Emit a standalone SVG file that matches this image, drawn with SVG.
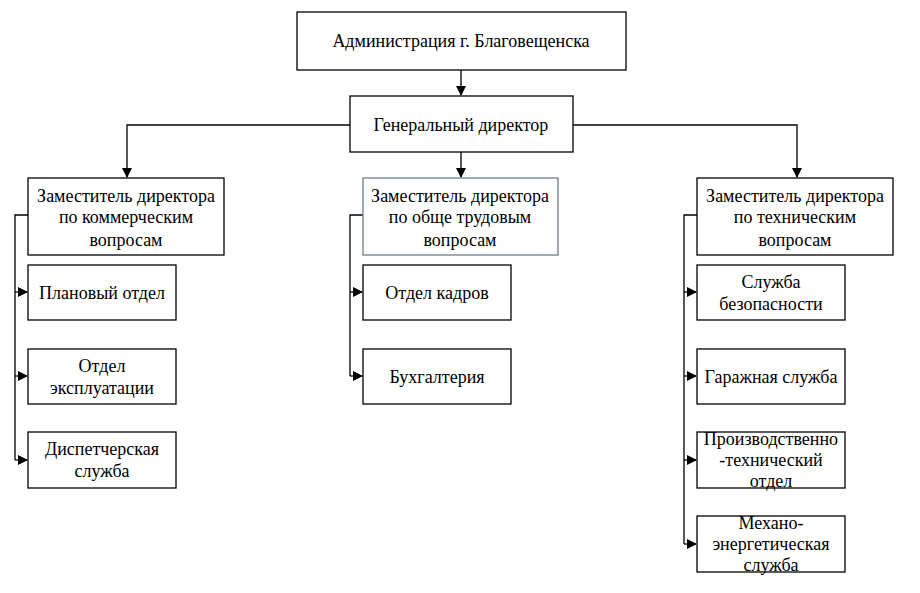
<svg xmlns="http://www.w3.org/2000/svg" width="920" height="593" viewBox="0 0 920 593">
<style>
.b{fill:#fff;stroke:#000;stroke-width:1.3}
.g{fill:#fff;stroke:#6f7d86;stroke-width:1.3}
text{font-family:"Liberation Serif",serif;font-size:18px;fill:#000;text-anchor:middle}
.c{fill:none;stroke:#000;stroke-width:1.3}
</style>
<defs><marker id="a" markerWidth="10" markerHeight="10" refX="9" refY="5" orient="auto" markerUnits="userSpaceOnUse"><path d="M0,0 L10,5 L0,10 z" fill="#000"/></marker></defs>
<rect width="920" height="593" fill="#fff"/>
<g id="connectors" class="c">
<path d="M461,70 V95" marker-end="url(#a)"/>
<path d="M350,125 H127 V177" marker-end="url(#a)"/>
<path d="M573,125 H797 V177" marker-end="url(#a)"/>
<path d="M461,152 V177" marker-end="url(#a)"/>
<path d="M28,215 H15 V460"/>
<path d="M15,292 H27" marker-end="url(#a)"/>
<path d="M15,376 H27" marker-end="url(#a)"/>
<path d="M15,460 H27" marker-end="url(#a)"/>
<path d="M363,215 H350 V376"/>
<path d="M350,292 H362" marker-end="url(#a)"/>
<path d="M350,376 H362" marker-end="url(#a)"/>
<path d="M697,215 H684 V544"/>
<path d="M684,292 H696" marker-end="url(#a)"/>
<path d="M684,376 H696" marker-end="url(#a)"/>
<path d="M684,460 H696" marker-end="url(#a)"/>
<path d="M684,544 H696" marker-end="url(#a)"/>
</g>
<g id="admin"><rect class="b" x="297" y="12" width="329" height="58"/><text x="461" y="47">Администрация г. Благовещенска</text></g>
<g id="gen"><rect class="b" x="350" y="96" width="223" height="56"/><text x="461" y="131">Генеральный директор</text></g>
<g id="dep1"><rect class="b" x="28" y="178" width="196" height="77"/><text x="126" y="202">Заместитель директора</text><text x="126" y="223">по коммерческим</text><text x="126" y="246">вопросам</text></g>
<g id="dep2"><rect class="g" x="363" y="178" width="195" height="77"/><text x="460" y="202">Заместитель директора</text><text x="460" y="223">по обще трудовым</text><text x="460" y="246">вопросам</text></g>
<g id="dep3"><rect class="b" x="697" y="178" width="196" height="77"/><text x="795" y="202">Заместитель директора</text><text x="795" y="223">по техническим</text><text x="795" y="246">вопросам</text></g>
<g id="l1"><rect class="b" x="28" y="265" width="148" height="55"/><text x="102" y="299">Плановый отдел</text></g>
<g id="l2"><rect class="b" x="28" y="349" width="148" height="55"/><text x="102" y="372">Отдел</text><text x="102" y="394">эксплуатации</text></g>
<g id="l3"><rect class="b" x="28" y="432" width="148" height="56"/><text x="102" y="455">Диспетчерская</text><text x="102" y="477">служба</text></g>
<g id="m1"><rect class="b" x="363" y="265" width="148" height="55"/><text x="437" y="299">Отдел кадров</text></g>
<g id="m2"><rect class="b" x="363" y="349" width="148" height="55"/><text x="437" y="383">Бухгалтерия</text></g>
<g id="r1"><rect class="b" x="697" y="265" width="148" height="55"/><text x="771" y="288">Служба</text><text x="771" y="310">безопасности</text></g>
<g id="r2"><rect class="b" x="697" y="349" width="148" height="55"/><text x="771" y="383">Гаражная служба</text></g>
<g id="r3"><rect class="b" x="697" y="432" width="148" height="56"/><text x="771" y="445">Производственно</text><text x="771" y="466">-технический</text><text x="771" y="487">отдел</text></g>
<g id="r4"><rect class="b" x="697" y="516" width="148" height="56"/><text x="771" y="529">Механо-</text><text x="771" y="550">энергетическая</text><text x="771" y="571">служба</text></g>
</svg>
